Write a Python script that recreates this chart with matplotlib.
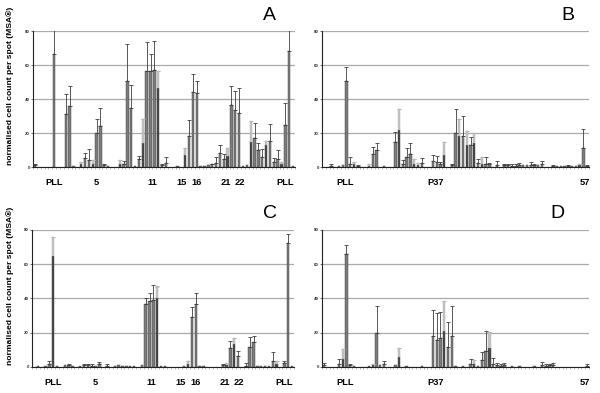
import numpy as np
import matplotlib
matplotlib.use('Agg')
import matplotlib.pyplot as plt

plt.rcParams['font.family'] = ['Liberation Sans', 'DejaVu Sans']

# ---- panel A (68 spots) ----
a_pos = [0, 5, 8, 9, 10, 12, 13, 14, 15, 16, 17, 18, 19, 22, 23, 24, 25, 26, 27, 28,
         29, 30, 31, 32, 33, 34, 37, 39, 40, 41, 42, 43, 44, 45, 46, 47, 48, 49, 50,
         51, 52, 53, 54, 55, 56, 57, 58, 59, 60, 61, 62, 63, 64, 65, 66, 67]
a_val = [1, 66.5, 31, 36, 0.5, 1.5, 5.5, 4, 2, 20, 24, 1, 0.5, 2, 1.5, 50.5, 34.5, 0.5, 4.5, 14,
         56.5, 56.5, 57, 46.5, 1, 2.5, 0.5, 7, 18.5, 44, 43.5, 0.5, 0.5, 1, 1.5, 2.5, 8, 4.5, 6.5,
         36.5, 33.5, 31.5, 0.5, 1, 15, 17.3, 10.3, 6, 12.7, 15.5, 3, 5, 1.5, 24.5, 68, 0.5]
a_err = [0.5, 16, 12, 11.5, 0, 0, 2.5, 6.4, 0, 8.5, 11, 1, 0, 0, 2, 22, 14, 0, 2, 0,
         17, 10, 17, 0, 0.5, 3.5, 0, 0, 9, 10.5, 7, 0, 0, 0, 0.5, 3.5, 5, 3, 0,
         11, 11.5, 15, 0, 0, 0, 8.7, 3.7, 4.5, 0, 10, 2.3, 5, 0, 13, 14, 0]
a_light = [0, 0, 0, 0, 0, 1.5, 0, 0, 2, 0, 0, 0, 0, 2, 0, 0, 0, 0, 0, 14.5,
           0, 0, 0, 10, 0, 0, 0, 4, 0, 0, 0, 0, 0, 0, 0, 0, 0, 0, 4.5,
           0, 0, 0, 0, 0, 12, 0, 0, 0, 2.6, 0, 0, 0, 1.5, 0, 0, 0]

# ---- panel C (68 spots) ----
c_pos = [1, 3, 4, 5, 6, 8, 9, 10, 12, 13, 14, 15, 16, 17, 19, 21, 22, 23, 24, 25, 26, 28,
         29, 30, 31, 32, 33, 34, 39, 40, 41, 42, 43, 44, 49, 50, 51, 52, 53, 55, 56, 57,
         58, 59, 60, 61, 62, 63, 65, 66, 67]
c_val = [0.5, 0.5, 2, 65, 0.5, 1, 1, 0.5, 0.5, 1, 1, 0.5, 0.5, 1.5, 0.5, 0.5, 1, 0.5, 0.5, 0.5, 0.5, 1,
         37, 38.5, 39, 40, 0.5, 0.5, 0.5, 2, 29, 37, 0.5, 0.5, 1, 1, 11, 13.5, 6.5, 0.5, 11.5, 14.5,
         0.5, 0.5, 0.5, 0.5, 3.5, 2, 2.5, 72.5, 0.5]
c_err = [0, 0, 1.5, 0, 0, 0, 0.5, 0, 0, 1, 1, 1, 0, 1.5, 1.5, 0, 0, 0, 0, 0, 0, 0,
         3.5, 4.5, 9, 0, 0, 0, 0, 0, 6, 6, 0, 0, 1, 0, 4, 0, 3, 2, 6, 3.5,
         0, 0, 0, 0, 5.5, 0, 1, 5, 0]
c_light = [0, 0, 0, 11, 0, 0, 0, 0, 0, 0, 0, 0, 0, 0, 0, 0, 0, 0, 0, 0, 0, 0,
           0, 0, 0, 7, 0, 0, 0, 1.5, 0, 0, 0, 0, 0, 1.5, 0, 3.5, 0, 0, 0, 0,
           0, 0, 0, 0, 0, 1.5, 0, 0, 0]

# ---- panel B (71 spots) ----
b_pos = [2, 4, 5, 6, 7, 8, 9, 12, 13, 14, 16, 19, 20, 21, 22, 23, 24, 25, 26, 29, 30, 31, 32,
         34, 35, 36, 37, 38, 39, 40, 41, 42, 43, 44, 46, 48, 49, 50, 51, 52, 53, 54, 55, 56,
         57, 58, 61, 62, 63, 64, 65, 66, 67, 68, 69, 70]
b_val = [0.5, 0.5, 1, 50.5, 2, 1.5, 0.5, 0.5, 7.8, 10, 0.5, 14.5, 22, 2, 6, 7.5, 2, 1, 2.5, 3.5, 3, 1.5, 7,
         1, 20, 18, 18.5, 13, 13, 14, 2.5, 2, 2, 1.5, 1, 1, 1, 0.5, 0.5, 1, 1, 1, 1, 1,
         1, 2, 0.5, 0.5, 0.5, 0.5, 0.5, 0.5, 0.5, 1, 11, 0.5]
b_err = [1.5, 0, 0, 8.5, 4, 0, 0.5, 0, 3.7, 4, 0, 6, 0, 2, 5, 6.5, 0, 0, 3, 3.5, 3.5, 1.5, 0,
         0.5, 14, 0, 11.5, 0, 4.5, 0, 2.5, 0, 4, 1, 2.5, 1, 1, 1, 1, 1.5, 0, 0, 2, 1,
         0, 1.5, 0.5, 0, 0, 0, 0.5, 0, 0, 0, 11.5, 0.5]
b_light = [0, 0, 0, 0, 0, 1.5, 0, 1, 0, 0, 0, 0, 12, 0, 0, 0, 2.5, 1.5, 0, 0, 0, 0, 8,
           0, 0, 10, 0, 8, 0, 6, 0, 4, 0, 0, 0, 0, 0, 0, 0, 0, 0, 0, 0, 0,
           0, 0, 0, 0, 0, 0, 0, 0, 0, 1, 0, 0]

# ---- panel D (71 spots) ----
d_pos = [0, 4, 5, 6, 7, 8, 12, 13, 14, 15, 16, 19, 20, 22, 26, 29, 30, 31, 32, 33, 34, 35,
         37, 39, 40, 41, 42, 43, 44, 45, 46, 47, 48, 50, 52, 56, 58, 59, 60, 61, 70]
d_val = [1, 1.5, 4.5, 66, 1, 0.5, 0.5, 1, 20, 1, 1.5, 1, 6, 0.5, 0.5, 18, 16, 17, 21, 11.5, 18, 0.5,
         0.5, 1.5, 2, 0.5, 4, 9.5, 11, 2, 1, 0.5, 1, 0.5, 0.5, 0.5, 1, 0.5, 1, 1, 0.5]
d_err = [1.5, 3, 0, 5, 1, 0, 0, 0, 15.5, 0, 2, 0, 0, 0, 0, 15.5, 15.5, 15, 0, 15, 17.5, 0,
         0, 3, 0, 0, 5, 11.5, 0, 3, 1.5, 1, 1.5, 0, 0, 0, 2, 1, 1, 1.5, 1]
d_light = [0, 0, 6, 0, 0, 0, 0, 1, 0, 0, 0, 0, 5, 0, 0, 0, 0, 0, 17.5, 0, 0, 0,
           0, 0, 2, 0, 0, 0, 9.5, 0, 0, 0, 0, 0, 0, 0, 0, 0, 0, 0, 0]

ac_labels = ['PLL', '5', '11', '15', '16', '21', '22', 'PLL']
ac_label_pos = [5, 16, 30.5, 38, 42, 49.5, 53.3, 65]
bd_labels = ['PLL', 'P37', '57']
bd_label_pos = [5.6, 29.6, 69.5]

yticks = [0, 20, 40, 60, 80]


def draw_panel(ax, n, pos, val, err, light, labels, label_pos):
    pos = np.array(pos)
    val = np.array(val, dtype=float)
    err = np.array(err, dtype=float)
    light = np.array(light, dtype=float)
    has_light = light > 0
    colors = np.where(has_light, '#4a4a4a', '#7c7c7c')
    ax.bar(pos, val, width=0.62, color=colors, edgecolor='#3a3a3a', linewidth=0.3, zorder=3)
    ax.bar(pos[has_light], light[has_light], bottom=val[has_light], width=0.62,
           color='#c4c4c4', edgecolor='#b0b0b0', linewidth=0.3, zorder=3)
    # light caps on top of the stacked parts
    ax.errorbar(pos[has_light], val[has_light] + light[has_light], yerr=0.01, fmt='none',
                ecolor='#b8b8b8', elinewidth=0.5, capsize=1.2, capthick=0.6, zorder=4)
    m = (err > 0) & ~has_light
    ax.errorbar(pos[m], val[m], yerr=[np.zeros(m.sum()), err[m]], fmt='none',
                ecolor='#3c3c3c', elinewidth=0.6, capsize=1.2, capthick=0.6, zorder=4)

    ax.set_xlim(-0.5, n - 0.5)
    ax.set_ylim(0, 80)
    ax.set_yticks(yticks)
    ax.set_yticklabels([str(t) for t in yticks], fontsize=3.2, fontweight='bold', color='#333333')
    ax.set_xticks(np.arange(n + 1) - 0.5)
    ax.set_xticklabels([])
    ax.tick_params(axis='x', length=1.2, width=0.4, color='#888888')
    ax.tick_params(axis='y', length=1.2, width=0.4, pad=1)
    ax.yaxis.grid(True, color='#aaaaaa', linewidth=0.9, zorder=0)
    ax.set_axisbelow(True)
    for s in ['top', 'right']:
        ax.spines[s].set_visible(False)
    ax.spines['left'].set_linewidth(0.8)
    ax.spines['left'].set_color('#222222')
    ax.spines['bottom'].set_linewidth(0.8)
    ax.spines['bottom'].set_color('#222222')
    for lab, x in zip(labels, label_pos):
        ax.text(x, -0.115, lab, transform=ax.get_xaxis_transform(), ha='center', va='center',
                fontsize=6.7, fontweight='bold', clip_on=False)


fig = plt.figure(figsize=(6.0, 3.93), dpi=100)
ax_a = fig.add_axes([0.055, 0.575, 0.4367, 0.346])
ax_b = fig.add_axes([0.5367, 0.575, 0.445, 0.346])
ax_c = fig.add_axes([0.0533, 0.0662, 0.4367, 0.3486])
ax_d = fig.add_axes([0.5367, 0.0662, 0.445, 0.3486])

draw_panel(ax_a, 68, a_pos, a_val, a_err, a_light, ac_labels, ac_label_pos)
draw_panel(ax_b, 71, b_pos, b_val, b_err, b_light, bd_labels, bd_label_pos)
draw_panel(ax_c, 68, c_pos, c_val, c_err, c_light, ac_labels, ac_label_pos)
draw_panel(ax_d, 71, d_pos, d_val, d_err, d_light, bd_labels, bd_label_pos)

# panel letters
for letter, x, y in [('A', 269, 15), ('B', 568, 15), ('C', 270, 214), ('D', 557, 214)]:
    fig.text(x / 600, 1 - y / 393, letter, fontsize=14, ha='center', va='center')

ylab = 'normalised cell count per spot (MSA\u00ae)'
fig.text(10 / 600, 1 - 86 / 393, ylab, rotation=90, fontsize=6.1, fontweight='bold',
         ha='center', va='center')
fig.text(10 / 600, 1 - 286 / 393, ylab, rotation=90, fontsize=6.1, fontweight='bold',
         ha='center', va='center')

fig.savefig('out.png', dpi=100, facecolor='white')
